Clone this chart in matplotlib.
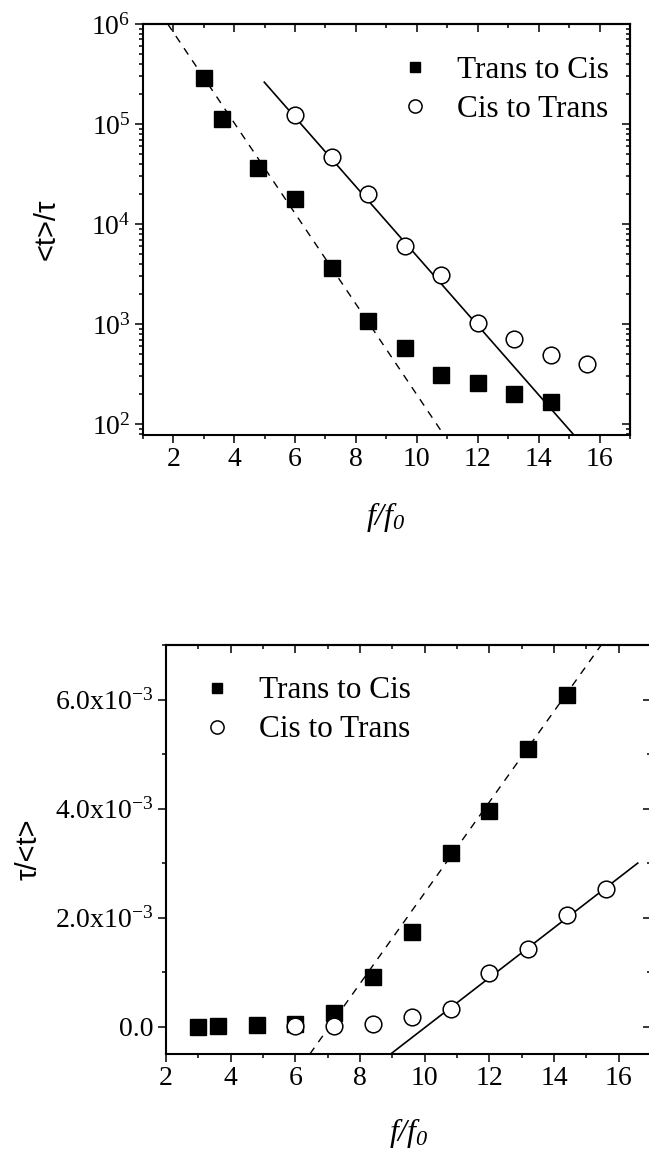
import numpy as np
import matplotlib
matplotlib.use("Agg")
import matplotlib.pyplot as plt
from matplotlib.ticker import LogLocator, MultipleLocator, NullFormatter, FuncFormatter, FixedLocator
from matplotlib.lines import Line2D

plt.rcParams['font.family'] = ['Liberation Serif', 'DejaVu Serif']
plt.rcParams['mathtext.fontset'] = 'custom'
plt.rcParams['mathtext.rm'] = 'Liberation Serif'
plt.rcParams['mathtext.it'] = 'Liberation Serif:italic'
plt.rcParams['mathtext.cal'] = 'Liberation Serif:italic'
plt.rcParams['mathtext.default'] = 'regular'

# ---------------- data ----------------
# top panel: <t>/tau vs f/f0 (log scale)
x_tc = [3.0, 3.6, 4.8, 6.0, 7.2, 8.4, 9.6, 10.8, 12.0, 13.2, 14.4]
t_tc = [2.9e5, 1.12e5, 3.6e4, 1.8e4, 3.67e3, 1.08e3, 575, 314, 257, 200, 167]
x_ct = [6.0, 7.2, 8.4, 9.6, 10.8, 12.0, 13.2, 14.4, 15.6]
t_ct = [1.22e5, 4.65e4, 2.0e4, 6.0e3, 3.1e3, 1.03e3, 706, 493, 401]
# fit lines (top)
fit_tc_top_x = [1.82, 10.89]
fit_tc_top_y = [1.0e6, 78]
fit_ct_top_x = [4.99, 15.16]
fit_ct_top_y = [2.62e5, 78]

# bottom panel: tau/<t> vs f/f0 (linear)
r_tc = [0.003e-3, 0.009e-3, 0.028e-3, 0.056e-3, 0.25e-3, 0.92e-3, 1.745e-3, 3.18e-3, 3.96e-3, 5.10e-3, 6.08e-3]
r_ct = [0.008e-3, 0.02e-3, 0.05e-3, 0.17e-3, 0.32e-3, 0.98e-3, 1.43e-3, 2.05e-3, 2.53e-3]
fit_tc_bot_x = [6.45, 15.46]
fit_tc_bot_y = [-0.5e-3, 7.0e-3]
fit_ct_bot_x = [8.95, 16.59]
fit_ct_bot_y = [-0.5e-3, 3.0e-3]

labels = ['Trans to Cis', 'Cis to Trans']
xticks = [2, 4, 6, 8, 10, 12, 14, 16]
yticks_bot = [0.0, 2.0e-3, 4.0e-3, 6.0e-3]

# ---------------- style ----------------
TICK_FS = 20
LEG_FS = 22.5
LAB_FS = 23
YLAB_FS = 21
MS_SQ = 12
MS_CI = 12
MEW = 1.1
SPW = 1.5
MAJ_L, MIN_L, TW = 5.8, 3.0, 1.1
DASH = (0, (5.5, 5.0))

fig = plt.figure(figsize=(6.49, 11.53), dpi=100)

def style_axes(ax):
    for s in ax.spines.values():
        s.set_linewidth(SPW)
    ax.tick_params(which='both', direction='out', width=TW, labelsize=TICK_FS,
                   top=False, right=False)
    ax.tick_params(which='major', length=MAJ_L, pad=3)
    ax.tick_params(which='minor', length=MIN_L)
    sx = ax.secondary_xaxis('top')
    sy = ax.secondary_yaxis('right')
    sx.spines['top'].set_linewidth(SPW)
    sy.spines['right'].set_linewidth(SPW)
    for sa in (sx, sy):
        sa.tick_params(which='both', direction='in', width=TW, labelsize=TICK_FS)
        sa.tick_params(which='major', length=MAJ_L)
        sa.tick_params(which='minor', length=MIN_L)
    return sx, sy

# ---------------- top panel ----------------
ax1 = fig.add_axes([0.2200, 0.6227, 0.7507, 0.3565])
ax1.set_yscale('log')
ax1.plot(fit_tc_top_x, fit_tc_top_y, ls=DASH, color='black', lw=1.0)
ax1.plot(fit_ct_top_x, fit_ct_top_y, ls='-', color='black', lw=1.2)
ax1.plot(x_tc, t_tc, ls='none', marker='s', ms=MS_SQ, color='black')
ax1.plot(x_ct, t_ct, ls='none', marker='o', ms=MS_CI, mfc='white', mec='black', mew=MEW)
ax1.set_xlim(1, 17)
ax1.set_ylim(78, 1e6)
ax1.xaxis.set_major_locator(FixedLocator(xticks))
ax1.xaxis.set_minor_locator(MultipleLocator(1))
ax1.yaxis.set_major_locator(LogLocator(base=10, numticks=10))
ax1.yaxis.set_minor_locator(LogLocator(base=10, subs=np.arange(2, 10), numticks=20))
ax1.yaxis.set_minor_formatter(NullFormatter())
sx, sy = style_axes(ax1)
sx.xaxis.set_major_locator(FixedLocator(xticks))
sx.xaxis.set_minor_locator(MultipleLocator(1))
sx.set_xticklabels([])
sy.yaxis.set_major_locator(LogLocator(base=10, numticks=10))
sy.yaxis.set_minor_locator(LogLocator(base=10, subs=np.arange(2, 10), numticks=20))
sy.yaxis.set_major_formatter(NullFormatter())
sy.yaxis.set_minor_formatter(NullFormatter())
ax1.set_xlabel(r'$\mathcal{f/f_0}$', fontsize=LAB_FS, labelpad=20)
ax1.set_ylabel('<t>/\u03c4', fontsize=YLAB_FS, family=['Liberation Sans', 'DejaVu Sans'], labelpad=22)

h1 = [Line2D([], [], ls='none', marker='s', ms=7.5, color='black'),
      Line2D([], [], ls='none', marker='o', ms=9.5, mfc='white', mec='black', mew=MEW)]
ax1.legend(h1, labels, loc='upper left', bbox_to_anchor=(0.526, 0.922), frameon=False,
           fontsize=LEG_FS, handlelength=1.0, handletextpad=0.85, labelspacing=0.32,
           borderpad=0, borderaxespad=0)

# ---------------- bottom panel ----------------
ax2 = fig.add_axes([0.2558, 0.0859, 0.7473, 0.3547])
ax2.plot(fit_tc_bot_x, fit_tc_bot_y, ls=DASH, color='black', lw=1.0)
ax2.plot(fit_ct_bot_x, fit_ct_bot_y, ls='-', color='black', lw=1.2)
ax2.plot(x_tc, r_tc, ls='none', marker='s', ms=MS_SQ, color='black')
ax2.plot(x_ct, r_ct, ls='none', marker='o', ms=MS_CI, mfc='white', mec='black', mew=MEW)
ax2.set_xlim(2, 17)
ax2.set_ylim(-0.5e-3, 7.0e-3)
ax2.xaxis.set_major_locator(FixedLocator(xticks))
ax2.xaxis.set_minor_locator(MultipleLocator(1))
ax2.yaxis.set_major_locator(FixedLocator(yticks_bot))
ax2.yaxis.set_minor_locator(MultipleLocator(1e-3))

def fmt(v, pos):
    if abs(v) < 1e-12:
        return '0.0'
    return '%.1fx10$^{-3}$' % (v * 1e3)

ax2.yaxis.set_major_formatter(FuncFormatter(fmt))
sx2, sy2 = style_axes(ax2)
sx2.xaxis.set_major_locator(FixedLocator(xticks))
sx2.xaxis.set_minor_locator(MultipleLocator(1))
sx2.set_xticklabels([])
sy2.yaxis.set_major_locator(FixedLocator(yticks_bot))
sy2.yaxis.set_minor_locator(MultipleLocator(1e-3))
sy2.yaxis.set_major_formatter(NullFormatter())
ax2.set_xlabel(r'$\mathcal{f/f_0}$', fontsize=LAB_FS, labelpad=18)
ax2.set_ylabel('\u03c4/<t>', fontsize=YLAB_FS, family=['Liberation Sans', 'DejaVu Sans'], labelpad=9)

ax2.legend(h1, labels, loc='upper left', bbox_to_anchor=(0.0735, 0.923), frameon=False,
           fontsize=LEG_FS, handlelength=1.0, handletextpad=0.85, labelspacing=0.32,
           borderpad=0, borderaxespad=0)

fig.savefig('out.png', dpi=100)
